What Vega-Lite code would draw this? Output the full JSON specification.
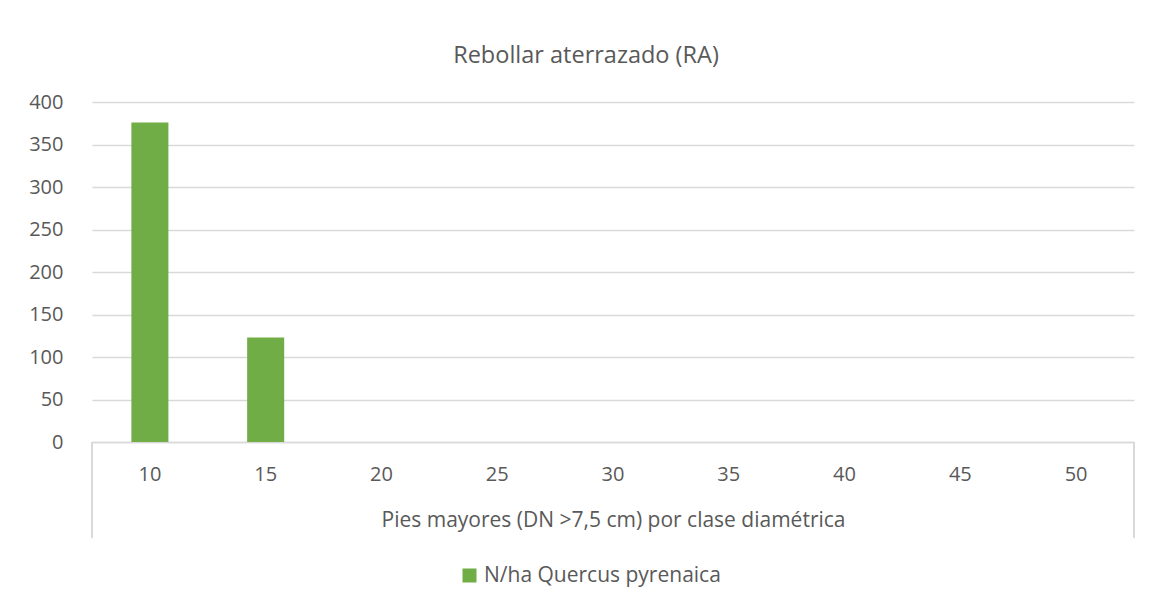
{
  "$schema": "https://vega.github.io/schema/vega-lite/v6.json",
  "autosize": {"type": "none"},
  "padding": {"left": 92, "top": 102, "right": 18, "bottom": 163},
  "width": 1042,
  "height": 340,
  "background": "white",
  "title": {
    "text": "Rebollar aterrazado (RA)",
    "anchor": "middle",
    "font": "Open Sans",
    "fontSize": 23.5,
    "fontWeight": "normal",
    "color": "#595959",
    "offset": 25,
    "dx": -27
  },
  "data": {
    "values": [
      {"clase": "10", "n": 376, "serie": "N/ha Quercus pyrenaica"},
      {"clase": "15", "n": 123, "serie": "N/ha Quercus pyrenaica"},
      {"clase": "20", "n": 0, "serie": "N/ha Quercus pyrenaica"},
      {"clase": "25", "n": 0, "serie": "N/ha Quercus pyrenaica"},
      {"clase": "30", "n": 0, "serie": "N/ha Quercus pyrenaica"},
      {"clase": "35", "n": 0, "serie": "N/ha Quercus pyrenaica"},
      {"clase": "40", "n": 0, "serie": "N/ha Quercus pyrenaica"},
      {"clase": "45", "n": 0, "serie": "N/ha Quercus pyrenaica"},
      {"clase": "50", "n": 0, "serie": "N/ha Quercus pyrenaica"}
    ]
  },
  "layer": [
    {
      "mark": {"type": "bar", "width": {"band": 0.32}},
      "encoding": {
        "x": {
          "field": "clase",
          "type": "ordinal",
          "sort": null,
          "scale": {"paddingInner": 0, "paddingOuter": 0},
          "axis": {
            "title": "Pies mayores (DN >7,5 cm) por clase diamétrica",
            "titleFontSize": 21,
            "labelAngle": 0,
            "ticks": false,
            "tickSize": 0,
            "domain": true,
            "domainColor": "#D9D9D9",
            "domainWidth": 1.5,
            "labelPadding": 22,
            "titlePadding": 25
          }
        },
        "y": {
          "field": "n",
          "type": "quantitative",
          "scale": {"domain": [0, 400]},
          "axis": {
            "title": null,
            "values": [0, 50, 100, 150, 200, 250, 300, 350, 400],
            "domain": false,
            "ticks": false,
            "tickSize": 0,
            "labelPadding": 29,
            "grid": true,
            "gridColor": "#D9D9D9",
            "gridWidth": 1.3
          }
        },
        "color": {
          "field": "serie",
          "type": "nominal",
          "scale": {"range": ["#70AD47"]},
          "legend": {
            "title": null,
            "orient": "none",
            "legendX": 367,
            "legendY": 463,
            "symbolType": "square",
            "symbolSize": 196,
            "symbolStrokeWidth": 0,
            "labelFontSize": 21,
            "labelFont": "Open Sans",
            "labelColor": "#595959",
            "labelOffset": 4,
            "labelLimit": 500
          }
        }
      }
    },
    {
      "mark": {"type": "rule", "color": "#D9D9D9", "strokeWidth": 1.5},
      "encoding": {
        "x": {"datum": "10", "type": "ordinal", "bandPosition": 0},
        "y": {"datum": 0, "type": "quantitative"},
        "y2": {"datum": -112}
      }
    },
    {
      "mark": {"type": "rule", "color": "#D9D9D9", "strokeWidth": 1.5},
      "encoding": {
        "x": {"datum": "50", "type": "ordinal", "bandPosition": 1},
        "y": {"datum": 0, "type": "quantitative"},
        "y2": {"datum": -112}
      }
    }
  ],
  "config": {
    "view": {"stroke": null},
    "font": "Open Sans",
    "axis": {
      "labelFont": "Open Sans",
      "labelFontSize": 20,
      "labelColor": "#595959",
      "titleFont": "Open Sans",
      "titleFontSize": 20,
      "titleFontWeight": "normal",
      "titleColor": "#595959"
    }
  }
}
